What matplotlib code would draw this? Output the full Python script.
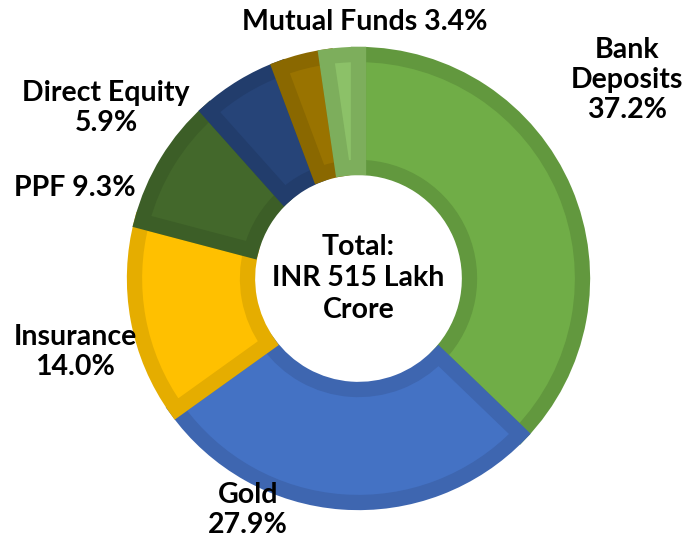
import matplotlib
matplotlib.use("Agg")
import matplotlib.pyplot as plt

# household savings split, clockwise from 12 o'clock
names = ["Bank Deposits", "Gold", "Insurance", "PPF", "Direct Equity", "Mutual Funds", "Others"]
shares = [37.2, 27.9, 14.0, 9.3, 5.9, 3.4, 2.3]
fills = ["#70AD47", "#4472C4", "#FFC000", "#43682B", "#264478", "#997300", "#8CC168"]
edges = ["#62983E", "#3E66B0", "#E5AD00", "#3C5E27", "#223D6C", "#8A6800", "#7DAE5C"]
label_txt = ["Bank\nDeposits\n37.2%", "Gold\n27.9%", "Insurance\n14.0%", "PPF 9.3%",
             "Direct Equity\n5.9%", "Mutual Funds 3.4%", ""]
label_pos = [(627, 80), (248, 510), (75, 352), (75, 188), (106, 108), (365, 22), None]

plt.rcParams['font.family'] = ['Lato', 'DejaVu Sans']

W, H = 693, 545
fig = plt.figure(figsize=(W / 100, H / 100), dpi=100)
ax = fig.add_axes([0, 0, 1, 1])

cx, cy = 358.5, H - 278.5
wedges, _ = ax.pie(shares, colors=fills, startangle=90, counterclock=False,
                   center=(cx, cy), radius=224, frame=True,
                   wedgeprops=dict(width=113, edgecolor='white', linewidth=1))
ax.set_xlim(0, W)
ax.set_ylim(0, H)
ax.set_aspect('equal')
ax.axis('off')

# darker rim drawn inside each wedge (clip the stroke to the wedge itself)
for w, ec in zip(wedges, edges):
    w.set_edgecolor(ec)
    w.set_linewidth(11)
    w.set_clip_path(w)

for t, p in zip(label_txt, label_pos):
    if p is None:
        continue
    ax.text(p[0], H - p[1], t, ha='center', va='center', fontsize=20.5,
            fontweight='bold', linespacing=1.2)

ax.text(cx, cy, "Total:\nINR 515 Lakh\nCrore", ha='center', va='center',
        fontsize=20.5, fontweight='bold', linespacing=1.25)

fig.savefig("out.png", dpi=100)
